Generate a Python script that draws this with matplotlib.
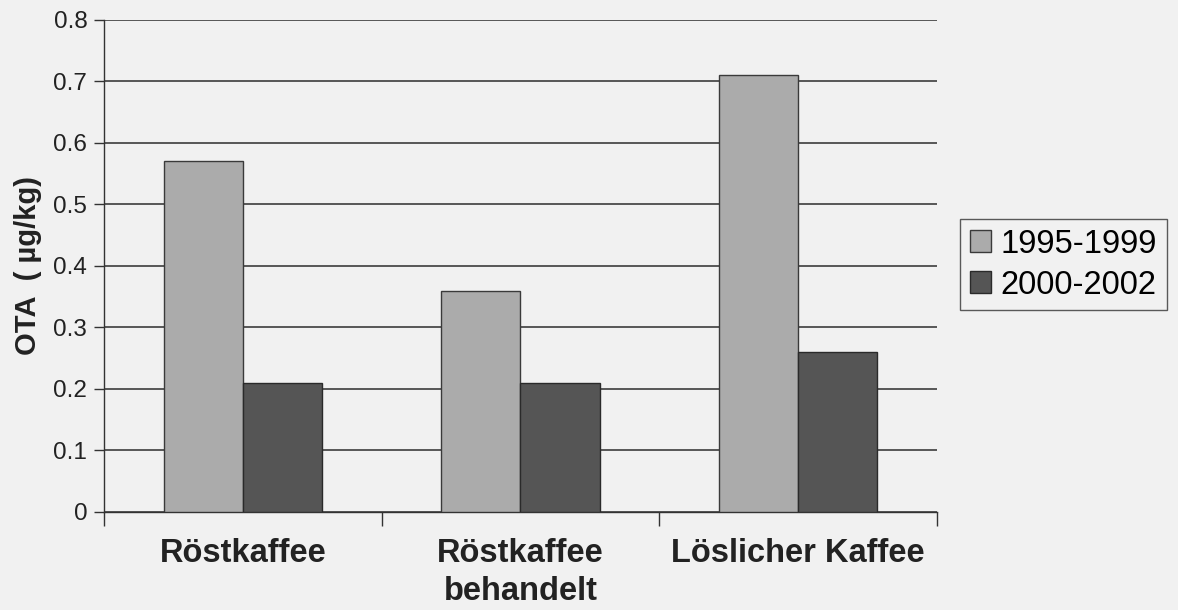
import matplotlib.pyplot as plt
import numpy as np

plt.rcParams['font.family'] = ['Liberation Sans', 'DejaVu Sans']

categories = ['Röstkaffee', 'Röstkaffee\nbehandelt', 'Löslicher Kaffee']
series_names = ['1995-1999', '2000-2002']
ota_1995_1999 = [0.57, 0.36, 0.71]
ota_2000_2002 = [0.21, 0.21, 0.26]
yticks = [0, 0.1, 0.2, 0.3, 0.4, 0.5, 0.6, 0.7, 0.8]
ytick_labels = ['0', '0.1', '0.2', '0.3', '0.4', '0.5', '0.6', '0.7', '0.8']

bg = '#f1f1f1'
fig = plt.figure(figsize=(11.78, 6.10), dpi=100, facecolor=bg)
ax = fig.add_axes([0.0883, 0.1607, 0.7071, 0.8066], facecolor=bg)

x = np.arange(len(categories))
w = 0.285
ax.bar(x - w / 2, ota_1995_1999, w, color='#ababab', edgecolor='#3a3a3a',
       linewidth=1.0, label=series_names[0], zorder=3)
ax.bar(x + w / 2, ota_2000_2002, w, color='#555555', edgecolor='#2a2a2a',
       linewidth=1.0, label=series_names[1], zorder=3)

ax.set_xlim(-0.5, 2.5)
ax.set_ylim(0, 0.8)
ax.set_yticks(yticks)
ax.set_yticklabels(ytick_labels, fontsize=17.5, color='#222222')
ax.yaxis.grid(True, color='#3c3c3c', linewidth=1.2, zorder=0)

# category boundary ticks, labels on minor ticks
ax.set_xticks([-0.5, 0.5, 1.5, 2.5])
ax.set_xticklabels([])
ax.set_xticks(x, minor=True)
ax.set_xticklabels(categories, minor=True, fontsize=23.5, fontweight='bold',
                   color='#222222', linespacing=1.28, va='top')
ax.tick_params(axis='x', which='major', direction='out', length=10,
               width=1.0, color='#333333')
ax.tick_params(axis='x', which='minor', length=0, pad=19)
ax.tick_params(axis='y', direction='out', length=7, width=1.0,
               color='#333333', pad=5)

for s in ['top', 'right']:
    ax.spines[s].set_visible(False)
for s in ['left', 'bottom']:
    ax.spines[s].set_color('#333333')
    ax.spines[s].set_linewidth(1.0)

ax.set_ylabel('OTA  ( µg/kg)', fontsize=21, fontweight='bold',
              color='#222222', labelpad=8)

leg = fig.legend(loc='center left', bbox_to_anchor=(0.815, 0.566),
                 fontsize=23.5, frameon=True, fancybox=False,
                 edgecolor='#333333', facecolor=bg, handlelength=0.65,
                 handleheight=0.65, handletextpad=0.3, borderpad=0.3,
                 labelspacing=0.3, borderaxespad=0)
leg.get_frame().set_linewidth(1.0)

fig.savefig('out.png', dpi=100, facecolor=bg)
